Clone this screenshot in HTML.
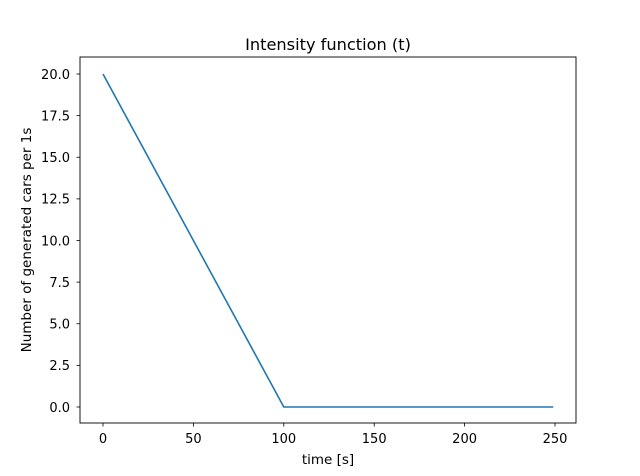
<!DOCTYPE html>
<html><head><meta charset="utf-8"><style>
body{margin:0;background:#fff;}
svg{display:block;font-family:"DejaVu Sans","Liberation Sans",sans-serif;}
</style></head><body>
<svg id="chart" width="640" height="476">
<rect x="0" y="0" width="640" height="476" fill="#fff"/>
<text x="328" y="50" font-size="16.2" text-anchor="middle">Intensity function (t)</text>
<text x="328" y="464" font-size="13.5" text-anchor="middle">time [s]</text>
<text transform="translate(31,240) rotate(-90)" font-size="13.5" text-anchor="middle">Number of generated cars per 1s</text>
<g id="ticks"></g>
<polyline id="line" fill="none" stroke="#1f77b4" stroke-width="1.6"/>
<rect x="80" y="57" width="496" height="366" fill="none" stroke="#000" stroke-width="0.9"/>
</svg>
<script>
const xTicks=[0,50,100,150,200,250];
const yTicks=[0,2.5,5,7.5,10,12.5,15,17.5,20];
const tValues=[0,100,249];
const intensityValues=[20,0,0];
const sx=v=>103+v*(555-103)/250;
const sy=v=>407-v*(407-74)/20;
const ns="http://www.w3.org/2000/svg";
const g=document.getElementById('ticks');
function mk(tag,attrs){const e=document.createElementNS(ns,tag);for(const k in attrs)e.setAttribute(k,attrs[k]);g.appendChild(e);return e;}
xTicks.forEach(t=>{
 const l=mk('line',{x1:sx(t),x2:sx(t),y1:423,y2:426.5,stroke:'#000','stroke-width':0.8});
 
 
 const tx=mk('text',{x:sx(t),y:443,'font-size':13,'text-anchor':'middle'});
 tx.textContent=t;
 
 
});
yTicks.forEach(t=>{
 const l=mk('line',{x1:76.5,x2:80,y1:sy(t),y2:sy(t),stroke:'#000','stroke-width':0.8});
 
 
 const tx=mk('text',{x:70,y:sy(t)+4.8,'font-size':13,'text-anchor':'end'});
 tx.textContent=t.toFixed(1);
 
 
});
document.getElementById('line').setAttribute('points',tValues.map((t,i)=>sx(t)+','+sy(intensityValues[i])).join(' '));
</script>
</body></html>
